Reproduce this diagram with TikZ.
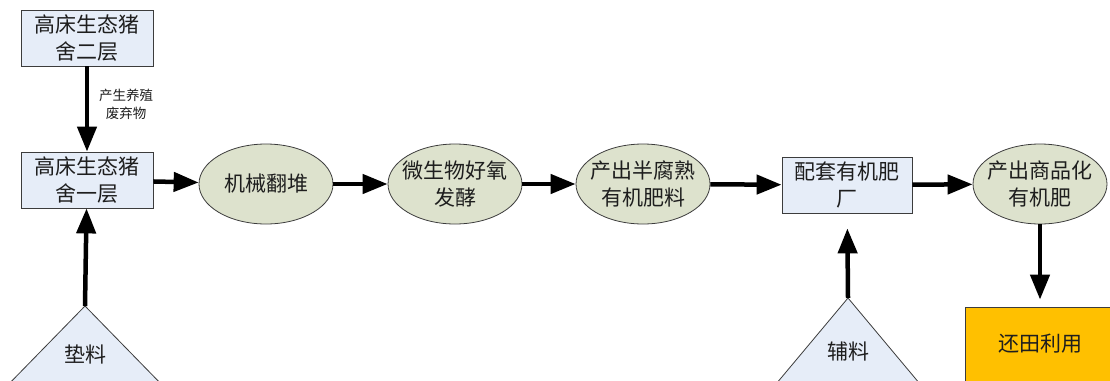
\documentclass[tikz,border=0pt]{standalone}
\usepackage{fontspec}
\newfontfamily\cjk{Noto Sans CJK SC}
\usetikzlibrary{arrows.meta,shapes.geometric}
\definecolor{boxfill}{RGB}{230,237,248}
\definecolor{ellfill}{RGB}{221,226,205}
\definecolor{orangefill}{RGB}{255,192,0}
\definecolor{edge}{RGB}{60,60,60}
\definecolor{txt}{RGB}{30,30,30}
\begin{document}
\begin{tikzpicture}[x=1pt,y=-1pt,
  bigtext/.style={font=\cjk\fontsize{21}{27}\selectfont, text=txt},
  box/.style={draw=edge, fill=boxfill, line width=0.8pt, minimum width=132pt, minimum height=56pt, inner sep=0pt, align=center, bigtext},
  ell/.style={ellipse, draw=edge, fill=ellfill, line width=0.8pt, minimum width=134pt, minimum height=80pt, inner xsep=-7pt, inner ysep=-2pt, align=center, bigtext},
  tri/.style={draw=edge, fill=boxfill, line width=0.8pt},
  arr/.style={line width=4.5pt, -{Triangle[length=25pt,width=19pt]}},
  small/.style={font=\cjk\fontsize{13.5}{18}\selectfont, text=txt, align=center}
]
\useasboundingbox (0,0) rectangle (1110,380);
\clip (0,0) rectangle (1110,380);
\fill[white] (0,0) rectangle (1110,380);

\node[box] (b2f) at (87,38) {高床生态猪\\舍二层};
\node[box] (b1f) at (87,180) {高床生态猪\\舍一层};
\node[ell] (e1) at (266,184) {机械翻堆};
\node[ell] (e2) at (455,184) {微生物好氧\\发酵};
\node[ell] (e3) at (643,184) {产出半腐熟\\有机肥料};
\node[box, minimum width=130pt] (b3) at (847,185) {配套有机肥\\厂};
\node[ell] (e4) at (1040,184) {产出商品化\\有机肥};
\node[draw=edge, fill=orangefill, line width=0.8pt, minimum width=150pt, minimum height=74pt, inner sep=0pt, bigtext] (use) at (1040,344) {还田利用};

\draw[tri] (85,306) -- (3,390) -- (167,390) -- cycle;
\coordinate (t1) at (85,306);
\node[bigtext] (t1txt) at (85,355) {垫料};
\draw[tri] (848,298) -- (771,390) -- (925,390) -- cycle;
\coordinate (t2) at (848,298);
\node[bigtext] (t2txt) at (848,352) {辅料};

\node[small] (lbl) at (126,104) {产生养殖\\废弃物};

\draw[arr] (b2f) -- (b1f);
\draw[arr] (b1f) -- (e1);
\draw[arr] (e1) -- (e2);
\draw[arr] (e2) -- (e3);
\draw[arr] (e3) -- (b3);
\draw[arr] (b3) -- (e4);
\draw[arr, shorten >=7pt] (e4) -- (use);
\draw[arr] (t1) -- (b1f);
\draw[arr, shorten >=15pt] (t2) -- (b3);
\end{tikzpicture}
\end{document}
